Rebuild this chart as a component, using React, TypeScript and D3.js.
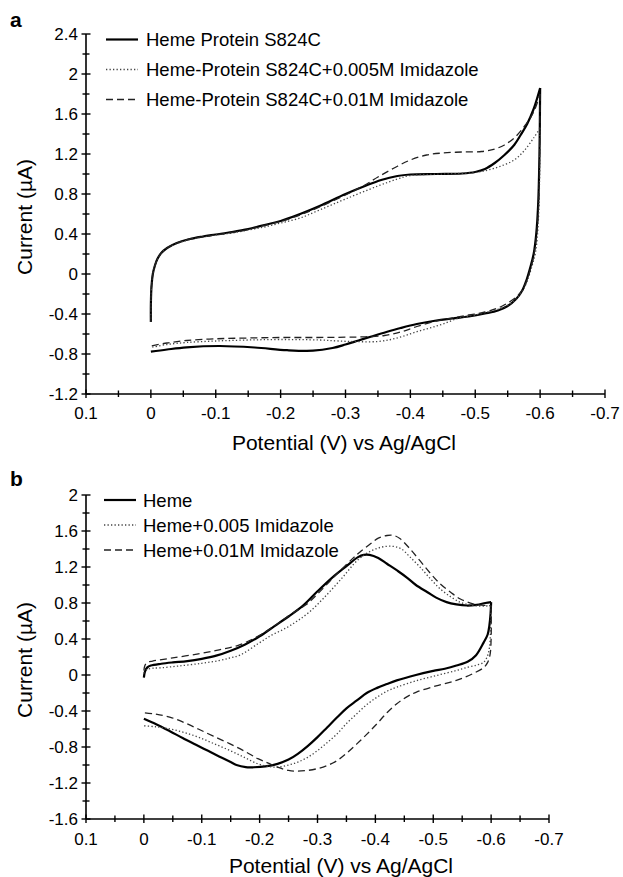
import React from "react";
import * as d3 from "d3";

type Pt = [number, number];

// Potential axis ticks (V vs Ag/AgCl), shared by both panels
const potentialTicks = [0.1, 0, -0.1, -0.2, -0.3, -0.4, -0.5, -0.6, -0.7];
const potentialMinor = [0.05, -0.05, -0.15, -0.25, -0.35, -0.45, -0.55, -0.65];

// Current axis ticks (µA)
const currentTicksA = [2.4, 2, 1.6, 1.2, 0.8, 0.4, 0, -0.4, -0.8, -1.2];
const currentMinorA = [2.2, 1.8, 1.4, 1.0, 0.6, 0.2, -0.2, -0.6, -1.0];
const currentTicksB = [2, 1.6, 1.2, 0.8, 0.4, 0, -0.4, -0.8, -1.2, -1.6];
const currentMinorB = [1.8, 1.4, 1.0, 0.6, 0.2, -0.2, -0.6, -1.0, -1.4];

const legendA = [
  "Heme Protein S824C",
  "Heme-Protein S824C+0.005M Imidazole",
  "Heme-Protein S824C+0.01M Imidazole",
];
const legendB = ["Heme", "Heme+0.005 Imidazole", "Heme+0.01M Imidazole"];

// ---- Panel a: heme protein S824C voltammograms (potential V, current µA) ----
const aProteinFwd: Pt[] = [
  [0, -0.48], [0, -0.3], [-0.001, -0.12], [-0.003, 0.0], [-0.006, 0.08],
  [-0.01, 0.15], [-0.016, 0.21], [-0.025, 0.26], [-0.04, 0.31], [-0.06, 0.35],
  [-0.08, 0.375], [-0.1, 0.395], [-0.125, 0.42], [-0.15, 0.45], [-0.175, 0.49],
  [-0.2, 0.53], [-0.23, 0.6], [-0.26, 0.68], [-0.3, 0.8], [-0.33, 0.88],
  [-0.355, 0.94], [-0.38, 0.98], [-0.4, 0.995], [-0.44, 1.0], [-0.48, 1.005],
  [-0.5, 1.02], [-0.515, 1.05], [-0.53, 1.11], [-0.545, 1.19], [-0.56, 1.29],
  [-0.57, 1.39], [-0.58, 1.5], [-0.59, 1.65], [-0.6, 1.86],
];
const aProteinRev: Pt[] = [
  [-0.6, 1.86], [-0.599, 1.2], [-0.597, 0.7], [-0.594, 0.4], [-0.59, 0.2],
  [-0.585, 0.07], [-0.579, -0.06], [-0.572, -0.17], [-0.563, -0.25],
  [-0.55, -0.32], [-0.535, -0.365], [-0.515, -0.395], [-0.49, -0.425],
  [-0.465, -0.445], [-0.44, -0.465], [-0.41, -0.5], [-0.385, -0.54],
  [-0.363, -0.58], [-0.34, -0.625], [-0.32, -0.665], [-0.3, -0.705],
  [-0.28, -0.74], [-0.25, -0.767], [-0.21, -0.762], [-0.16, -0.735],
  [-0.106, -0.72], [-0.055, -0.733], [-0.025, -0.755], [0, -0.777],
];
const aImid005Fwd: Pt[] = [
  [0, -0.48], [0, -0.3], [-0.001, -0.12], [-0.003, 0.0], [-0.006, 0.08],
  [-0.01, 0.15], [-0.016, 0.21], [-0.025, 0.26], [-0.04, 0.305], [-0.06, 0.345],
  [-0.08, 0.37], [-0.1, 0.39], [-0.125, 0.41], [-0.15, 0.44], [-0.175, 0.47],
  [-0.2, 0.51], [-0.23, 0.56], [-0.26, 0.64], [-0.3, 0.75], [-0.35, 0.88],
  [-0.38, 0.95], [-0.4, 0.985], [-0.45, 1.0], [-0.5, 1.015], [-0.52, 1.04],
  [-0.54, 1.08], [-0.56, 1.14], [-0.575, 1.23], [-0.59, 1.36], [-0.6, 1.46],
];
const aImid005Rev: Pt[] = [
  [-0.6, 1.46], [-0.599, 0.9], [-0.597, 0.5], [-0.593, 0.22], [-0.587, 0.07],
  [-0.58, -0.07], [-0.572, -0.18], [-0.56, -0.27], [-0.545, -0.33],
  [-0.525, -0.37], [-0.5, -0.41], [-0.475, -0.44], [-0.45, -0.5],
  [-0.43, -0.54], [-0.41, -0.577], [-0.39, -0.62], [-0.37, -0.655],
  [-0.35, -0.675], [-0.32, -0.677], [-0.29, -0.67], [-0.26, -0.66],
  [-0.2, -0.655], [-0.15, -0.66], [-0.1, -0.67], [-0.055, -0.685],
  [-0.025, -0.705], [0, -0.735],
];
const aImid01Fwd: Pt[] = [
  [0, -0.48], [0, -0.3], [-0.001, -0.12], [-0.003, 0.0], [-0.006, 0.08],
  [-0.01, 0.15], [-0.016, 0.21], [-0.025, 0.26], [-0.04, 0.31], [-0.06, 0.35],
  [-0.08, 0.372], [-0.1, 0.39], [-0.125, 0.415], [-0.15, 0.445], [-0.175, 0.485],
  [-0.2, 0.525], [-0.23, 0.59], [-0.26, 0.67], [-0.3, 0.79], [-0.33, 0.89],
  [-0.35, 0.97], [-0.375, 1.06], [-0.4, 1.14], [-0.425, 1.19], [-0.45, 1.21],
  [-0.48, 1.22], [-0.51, 1.225], [-0.53, 1.25], [-0.545, 1.29], [-0.56, 1.36],
  [-0.575, 1.47], [-0.59, 1.62], [-0.6, 1.8],
];
const aImid01Rev: Pt[] = [
  [-0.6, 1.8], [-0.599, 1.1], [-0.597, 0.6], [-0.593, 0.3], [-0.588, 0.12],
  [-0.582, -0.02], [-0.575, -0.13], [-0.565, -0.22], [-0.55, -0.29],
  [-0.535, -0.34], [-0.515, -0.38], [-0.49, -0.41], [-0.465, -0.44],
  [-0.44, -0.47], [-0.41, -0.525], [-0.385, -0.58], [-0.36, -0.615],
  [-0.33, -0.628], [-0.3, -0.632], [-0.25, -0.635], [-0.2, -0.635],
  [-0.15, -0.64], [-0.1, -0.648], [-0.055, -0.665], [-0.025, -0.69], [0, -0.72],
];

// ---- Panel b: free heme voltammograms ----
const bHemeFwd: Pt[] = [
  [0, -0.03], [-0.002, 0.04], [-0.006, 0.085], [-0.012, 0.105], [-0.03, 0.125],
  [-0.05, 0.14], [-0.075, 0.155], [-0.1, 0.18], [-0.125, 0.215], [-0.15, 0.27],
  [-0.175, 0.34], [-0.2, 0.43], [-0.225, 0.54], [-0.25, 0.65], [-0.275, 0.77],
  [-0.3, 0.93], [-0.325, 1.08], [-0.35, 1.21], [-0.37, 1.31], [-0.38, 1.335],
  [-0.39, 1.335], [-0.405, 1.3], [-0.42, 1.236], [-0.44, 1.15], [-0.455, 1.08],
  [-0.47, 1.0], [-0.49, 0.92], [-0.505, 0.86], [-0.523, 0.81], [-0.54, 0.785],
  [-0.558, 0.772], [-0.575, 0.78], [-0.59, 0.8], [-0.6, 0.81],
];
const bHemeRev: Pt[] = [
  [-0.6, 0.81], [-0.599, 0.68], [-0.597, 0.55], [-0.594, 0.45], [-0.587, 0.36],
  [-0.574, 0.22], [-0.56, 0.15], [-0.54, 0.105], [-0.52, 0.07], [-0.5, 0.045],
  [-0.47, 0.0], [-0.437, -0.06], [-0.42, -0.1], [-0.403, -0.143], [-0.385, -0.2],
  [-0.368, -0.283], [-0.35, -0.37], [-0.334, -0.47], [-0.317, -0.58],
  [-0.3, -0.69], [-0.283, -0.79], [-0.266, -0.876], [-0.25, -0.94],
  [-0.231, -0.987], [-0.21, -1.015], [-0.19, -1.025], [-0.176, -1.024],
  [-0.16, -1.0], [-0.149, -0.965], [-0.13, -0.905], [-0.11, -0.84],
  [-0.09, -0.775], [-0.067, -0.7], [-0.045, -0.625], [-0.022, -0.55], [0, -0.487],
];
const bImid005Fwd: Pt[] = [
  [0, 0.02], [-0.005, 0.06], [-0.015, 0.075], [-0.03, 0.08], [-0.06, 0.1],
  [-0.1, 0.13], [-0.13, 0.16], [-0.149, 0.19], [-0.166, 0.22], [-0.197, 0.347],
  [-0.22, 0.44], [-0.245, 0.52], [-0.265, 0.6], [-0.286, 0.7], [-0.31, 0.85],
  [-0.34, 1.06], [-0.37, 1.28], [-0.39, 1.37], [-0.41, 1.42], [-0.43, 1.43],
  [-0.445, 1.4], [-0.46, 1.31], [-0.477, 1.2], [-0.495, 1.07], [-0.512, 0.957],
  [-0.53, 0.87], [-0.546, 0.81], [-0.563, 0.78], [-0.58, 0.765], [-0.6, 0.77],
];
const bImid005Rev: Pt[] = [
  [-0.6, 0.77], [-0.599, 0.5], [-0.597, 0.3], [-0.593, 0.2], [-0.587, 0.14],
  [-0.575, 0.11], [-0.56, 0.087], [-0.54, 0.05], [-0.506, -0.005],
  [-0.47, -0.065], [-0.437, -0.135], [-0.42, -0.18], [-0.403, -0.246],
  [-0.385, -0.33], [-0.368, -0.43], [-0.35, -0.54], [-0.334, -0.653],
  [-0.317, -0.75], [-0.3, -0.84], [-0.283, -0.915], [-0.266, -0.968],
  [-0.25, -1.0], [-0.231, -1.024], [-0.215, -1.015], [-0.197, -0.987],
  [-0.175, -0.92], [-0.149, -0.84], [-0.12, -0.76], [-0.094, -0.69],
  [-0.07, -0.64], [-0.046, -0.6], [-0.02, -0.575], [0, -0.565],
];
const bImid01Fwd: Pt[] = [
  [0, 0.05], [-0.002, 0.11], [-0.006, 0.14], [-0.015, 0.155], [-0.047, 0.187],
  [-0.094, 0.235], [-0.13, 0.28], [-0.163, 0.33], [-0.2, 0.44], [-0.231, 0.57],
  [-0.26, 0.7], [-0.28, 0.78], [-0.3, 0.9], [-0.33, 1.1], [-0.36, 1.29],
  [-0.373, 1.365], [-0.39, 1.45], [-0.405, 1.52], [-0.42, 1.55], [-0.432, 1.55],
  [-0.443, 1.513], [-0.46, 1.4], [-0.477, 1.27], [-0.495, 1.13], [-0.512, 1.013],
  [-0.53, 0.92], [-0.546, 0.847], [-0.569, 0.79], [-0.592, 0.772], [-0.6, 0.77],
];
const bImid01Rev: Pt[] = [
  [-0.6, 0.77], [-0.6, 0.4], [-0.598, 0.22], [-0.594, 0.14], [-0.588, 0.087],
  [-0.57, 0.02], [-0.54, -0.06], [-0.505, -0.12], [-0.471, -0.19],
  [-0.455, -0.24], [-0.437, -0.32], [-0.42, -0.42], [-0.403, -0.54],
  [-0.385, -0.66], [-0.368, -0.765], [-0.35, -0.87], [-0.334, -0.95],
  [-0.317, -1.005], [-0.3, -1.04], [-0.283, -1.06], [-0.266, -1.068],
  [-0.25, -1.06], [-0.231, -1.024], [-0.215, -0.98], [-0.197, -0.93],
  [-0.175, -0.85], [-0.149, -0.765], [-0.12, -0.68], [-0.094, -0.6],
  [-0.07, -0.53], [-0.046, -0.47], [-0.02, -0.435], [0, -0.42],
];

const FONT = "'Liberation Sans', Arial, Helvetica, sans-serif";

type LineStyle = { width: number; dash?: string; color: string };
const STYLES: LineStyle[] = [
  { width: 2.2, color: "#000" },
  { width: 1.3, dash: "1.3 2.2", color: "#444" },
  { width: 1.3, dash: "7 4", color: "#222" },
];

type PanelProps = {
  letter: string;
  letterY: number;
  x: d3.ScaleLinear<number, number>;
  y: d3.ScaleLinear<number, number>;
  yTicks: number[];
  yMinor: number[];
  series: Pt[][][];
  legend: string[];
  legendX: number;
  legendTextX: number;
  legendY: number;
  legendStep: number;
  tickLabelY: number;
  titleY: number;
  titleX: number;
  yTitleX: number;
};

const fmt = (v: number) => String(Math.round(v * 10) / 10);

function Panel(p: PanelProps) {
  const [x0, x1] = p.x.range();
  const [y0, y1] = p.y.range();
  const axisX = x0;
  const axisY = y0;
  const line = d3
    .line<Pt>()
    .x((d) => p.x(d[0]))
    .y((d) => p.y(d[1]))
    .curve(d3.curveCatmullRom.alpha(0.5));
  return (
    <g>
      <text x={10} y={p.letterY} fontSize={21} fontWeight="bold" fontFamily={FONT}>
        {p.letter}
      </text>
      {/* voltammogram branches */}
      {p.series.map((branches, si) =>
        branches.map((b, bi) => (
          <path
            key={`${si}-${bi}`}
            d={line(b) || ""}
            fill="none"
            stroke={STYLES[si].color}
            strokeWidth={STYLES[si].width}
            strokeDasharray={STYLES[si].dash}
            strokeLinejoin="round"
          />
        ))
      )}
      {/* axes */}
      <line x1={axisX} x2={axisX} y1={y0} y2={y1} stroke="#000" strokeWidth={1.6} />
      <line x1={x0} x2={x1} y1={axisY} y2={axisY} stroke="#000" strokeWidth={1.6} />
      {p.yTicks.map((t) => (
        <g key={`yt${t}`}>
          <line x1={axisX - 4.5} x2={axisX + 4.5} y1={p.y(t)} y2={p.y(t)} stroke="#000" strokeWidth={1.4} />
          <text
            x={axisX - 8}
            y={p.y(t)}
            dy="0.36em"
            textAnchor="end"
            fontSize={17}
            fontFamily={FONT}
          >
            {fmt(t)}
          </text>
        </g>
      ))}
      {p.yMinor.map((t) => (
        <line key={`ym${t}`} x1={axisX - 3.5} x2={axisX + 3.5} y1={p.y(t)} y2={p.y(t)} stroke="#000" strokeWidth={1.4} />
      ))}
      {potentialTicks.map((t) => (
        <g key={`xt${t}`}>
          <line x1={p.x(t)} x2={p.x(t)} y1={axisY - 4.5} y2={axisY + 4} stroke="#000" strokeWidth={1.4} />
          <text x={p.x(t)} y={p.tickLabelY} textAnchor="middle" fontSize={17} fontFamily={FONT}>
            {fmt(t)}
          </text>
        </g>
      ))}
      {potentialMinor.map((t) => (
        <line key={`xm${t}`} x1={p.x(t)} x2={p.x(t)} y1={axisY - 3.5} y2={axisY + 3} stroke="#000" strokeWidth={1.4} />
      ))}
      {/* axis titles */}
      <text x={p.titleX} y={p.titleY} textAnchor="middle" fontSize={21} fontFamily={FONT}>
        Potential (V) vs Ag/AgCl
      </text>
      <text
        transform={`translate(${p.yTitleX},${(y0 + y1) / 2 + 3}) rotate(-90)`}
        textAnchor="middle"
        fontSize={21}
        fontFamily={FONT}
      >
        Current (µA)
      </text>
      {/* legend */}
      {p.legend.map((label, i) => {
        const ly = p.legendY + i * p.legendStep;
        return (
          <g key={label}>
            <line
              x1={p.legendX}
              x2={p.legendX + 32}
              y1={ly}
              y2={ly}
              stroke={STYLES[i].color}
              strokeWidth={STYLES[i].width}
              strokeDasharray={STYLES[i].dash}
            />
            <text x={p.legendTextX} y={ly} dy="0.36em" fontSize={18.5} fontFamily={FONT}>
              {label}
            </text>
          </g>
        );
      })}
    </g>
  );
}

export default function App() {
  const xA = d3.scaleLinear().domain([0.1, -0.7]).range([86, 605]);
  const yA = d3.scaleLinear().domain([-1.2, 2.4]).range([394, 34]);
  const xB = d3.scaleLinear().domain([0.1, -0.7]).range([86, 549]);
  const yB = d3.scaleLinear().domain([-1.6, 2]).range([819, 495]);

  return (
    <svg
      width={623}
      height={877}
      viewBox="0 0 623 877"
      style={{ position: "absolute", left: 0, top: 0, background: "#fff" }}
    >
      <rect width={623} height={877} fill="#fff" />
      <Panel
        letter="a"
        letterY={27}
        x={xA}
        y={yA}
        yTicks={currentTicksA}
        yMinor={currentMinorA}
        series={[
          [aProteinFwd, aProteinRev],
          [aImid005Fwd, aImid005Rev],
          [aImid01Fwd, aImid01Rev],
        ]}
        legend={legendA}
        legendX={106}
        legendTextX={146}
        legendY={39.5}
        legendStep={30}
        tickLabelY={419}
        titleY={450}
        titleX={344}
        yTitleX={32}
      />
      <Panel
        letter="b"
        letterY={486}
        x={xB}
        y={yB}
        yTicks={currentTicksB}
        yMinor={currentMinorB}
        series={[
          [bHemeFwd, bHemeRev],
          [bImid005Fwd, bImid005Rev],
          [bImid01Fwd, bImid01Rev],
        ]}
        legend={legendB}
        legendX={104}
        legendTextX={143}
        legendY={500}
        legendStep={25}
        tickLabelY={845}
        titleY={873}
        titleX={341}
        yTitleX={32}
      />
    </svg>
  );
}
